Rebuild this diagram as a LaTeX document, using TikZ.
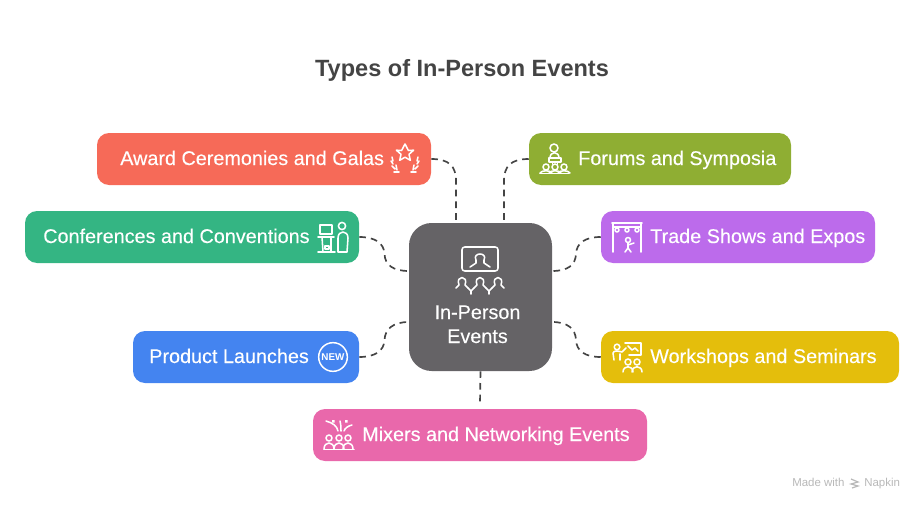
\documentclass[tikz,border=0pt]{standalone}
\usepackage{xcolor}
\usepackage{fontspec}
\setmainfont{Liberation Sans}
\usetikzlibrary{calc}
\definecolor{awardc}{HTML}{F66A58}
\definecolor{forumc}{HTML}{8FAE33}
\definecolor{confc}{HTML}{34B583}
\definecolor{tradec}{HTML}{BC6BEB}
\definecolor{launchc}{HTML}{4484F0}
\definecolor{workc}{HTML}{E4BE0C}
\definecolor{mixc}{HTML}{E968AB}
\definecolor{hubc}{HTML}{656366}
\definecolor{inkc}{HTML}{444444}
\tikzset{
  evbox/.style={rectangle,rounded corners=9pt,minimum height=39pt,inner sep=0pt},
  evtext/.style={anchor=base west,text=white,inner sep=0pt,font=\fontsize{14.85}{17}\selectfont\addfontfeature{FakeBold=0.2}},
  link/.style={line width=1.25pt,inkc,dash pattern=on 5pt off 3.8pt},
  ico/.style={white,line width=1.15pt,line cap=round,line join=round}
}
\begin{document}
\begin{tikzpicture}[x=0.75pt,y=-0.75pt]
\useasboundingbox (0,0) rectangle (924,510);
    \node[anchor=base,text=inkc,inner sep=0pt,font=\fontsize{17.65}{22}\selectfont\bfseries] (title) at (462,77) {Types of In-Person Events};
    % boxes
    \node[evbox,fill=hubc,minimum width=107.25pt,minimum height=111pt,rounded corners=17pt] (hub) at (480.5,297) {};
    \node[evbox,fill=awardc,minimum width=250.5pt] (award) at (264,159) {};
    \node[evbox,fill=forumc,minimum width=196.5pt] (forum) at (660,159) {};
    \node[evbox,fill=confc,minimum width=250.5pt] (conf) at (192,237) {};
    \node[evbox,fill=tradec,minimum width=205.5pt] (trade) at (738,237) {};
    \node[evbox,fill=launchc,minimum width=169.5pt] (launch) at (246,357) {};
    \node[evbox,fill=workc,minimum width=223.5pt] (work) at (750,357) {};
    \node[evbox,fill=mixc,minimum width=250.5pt] (mix) at (480,435) {};
    % labels
    \node[evtext] (awardtxt) at (120,165) {Award Ceremonies and Galas};
    \node[evtext] (forumtxt) at (578,165) {Forums and Symposia};
    \node[evtext] (conftxt) at (43,243) {Conferences and Conventions};
    \node[evtext] (tradetxt) at (650,243) {Trade Shows and Expos};
    \node[evtext] (launchtxt) at (149,363) {Product Launches};
    \node[evtext] (worktxt) at (650,363) {Workshops and Seminars};
    \node[evtext] (mixtxt) at (362,441) {Mixers and Networking Events};
    \node[evtext,anchor=base] (hubtxt) at (477.5,319) {In-Person};
    \node[evtext,anchor=base] (hubtxtb) at (477.5,343) {Events};
    % connectors
    \coordinate (hubna) at (456,223);
    \coordinate (hubnb) at (504,223);
    \coordinate (hubwa) at (409,271);
    \coordinate (hubwb) at (409,322);
    \coordinate (hubea) at (552,271);
    \coordinate (hubeb) at (552,322);
    \coordinate (mixtop) at (480,403);
    \draw[link] (award.east) .. controls (449,159) and (456,166) .. (456,181) -- (hubna);
    \draw[link] (forum.west) .. controls (511,159) and (504,166) .. (504,181) -- (hubnb);
    \draw[link] (conf.east) .. controls (375,237) and (384,243) .. (384.5,254) .. controls (385,265) and (393,271) .. (hubwa);
    \draw[link] (launch.east) .. controls (375,357) and (384,351) .. (384.5,340) .. controls (385,329) and (393,322) .. (hubwb);
    \draw[link] (trade.west) .. controls (585,237) and (576.5,243) .. (576,254) .. controls (575.5,265) and (568,271) .. (hubea);
    \draw[link] (work.west) .. controls (585,357) and (576.5,351) .. (576,340) .. controls (575.5,329) and (568,322) .. (hubeb);
    \draw[link] (hub.south) -- (mixtop);
    % hub icon
    \draw[ico] (462,247) [rounded corners=2pt] rectangle (498,271);
    \draw[ico] (470,267) -- (476,263) -- (476,260) .. controls (472,252) and (488,252) .. (484,260) -- (484,263) -- (490,267);
    \foreach \i in {462,480,498} {
      \draw[ico] ({\i-6},288) -- ({\i-3},285) .. controls ({\i-7},275) and ({\i+7},275) .. ({\i+3},285) -- ({\i+6},288);
    }
    \draw[ico] (468,288) -- (471,291) -- (474,288) (486,288) -- (489,291) -- (492,288) (471,291) -- (471,294) (489,291) -- (489,294);
    % award icon
    \draw[ico] (405,144) -- (408.4,150.5) -- (413.6,150.2) -- (409,154.3) -- (410.3,160.3) -- (405,157.2) -- (399.7,160.3) -- (401,154.3) -- (396.4,150.2) -- (401.6,150.5) -- cycle;
    \foreach \s in {1,-1} {
      \draw[ico] ({405-\s*13},157) -- ({405-\s*12},161) ({405-\s*14},161) -- ({405-\s*12},164) ({405-\s*13},166) -- ({405-\s*10},169) ({405-\s*11},172) -- ({405-\s*6},172) ({405-\s*9},165) -- ({405-\s*8},170);
    }
    % conference icon
    \draw[ico] (320,225) rectangle (332,234);
    \draw[ico] (318,237) -- (334,237) (322,237) -- (323,252) (331,237) -- (331,252) (318,252) -- (335,252);
    \draw[ico] (325,246) rectangle (329,249);
    \draw[ico] (342,226) circle (3.6);
    \draw[ico] (338,252) -- (338,238) .. controls (338,230) and (348,230) .. (348,238) -- (347,252) -- cycle;
    % forum icon
    \draw[ico] (554,148) circle (4);
    \draw[ico] (550,158) .. controls (550,151) and (559,151) .. (559,158);
    \draw[ico] (549,158) rectangle (561,162);
    \draw[ico] (552.5,162) -- (552.5,164) (557.5,162) -- (557.5,164);
    \foreach \i in {546,555,564} {
      \draw[ico] (\i,167) circle (3);
      \draw[ico] ({\i-6},173) .. controls ({\i-4},170) and ({\i+4},170) .. ({\i+6},173);
    }
    \draw[ico] (540,173.5) -- (569,173.5);
    % trade icon
    \draw[ico] (612,223) -- (642,223) (614,227) -- (640,227) (613,223) -- (613,252) (641,223) -- (641,252);
    \foreach \i in {617,627,637} {
      \draw[ico] (\i,230) circle (2);
    }
    \draw[ico] (628,240) circle (2.5);
    \draw[ico] (628,243) -- (628,248) -- (625,252) (628,248) -- (631,252) (628,245) -- (634,243);
    % workshop icon
    \draw[ico] (625,343) -- (641,343) -- (641,355) -- (629,355);
    \draw[ico] (628,346) -- (632,350) -- (635,348) -- (638,351);
    \draw[ico] (617,347) circle (2.8);
    \draw[ico] (614,360) -- (613,353) .. controls (614,350) and (618,351) .. (622,352) -- (626,348) (620,360) -- (620,354);
    \foreach \i in {628,637} {
      \draw[ico] (\i,362) circle (3);
      \draw[ico] ({\i-5},372) .. controls ({\i-5},365) and ({\i+5},365) .. ({\i+5},372);
    }
    % launch icon
    \node[circle,draw=white,line width=1.1pt,minimum size=21.5pt,inner sep=0pt,text=white,font=\fontsize{7.4}{8}\selectfont\bfseries] (newmark) at (333,357) {NEW};
    % mixer icon
    \foreach \i in {329,339,348} {
      \draw[ico] (\i,438) circle (3);
      \draw[ico] ({\i-5},449) .. controls ({\i-5},441) and ({\i+5},441) .. ({\i+5},449);
    }
    \draw[ico] (324,449.5) -- (354,449.5);
    \draw[ico] (338,431) .. controls (337,426) and (333,423) .. (326,421);
    \draw[ico] (341,431) .. controls (341,428) and (341,425) .. (340,421);
    \draw[ico] (344,431) .. controls (345,428) and (348,426) .. (352,425);
    \fill[white] (332,420) rectangle (334.5,422.5) (345,420) rectangle (347.5,422.5);
    % napkin mark
    \node[anchor=base west,inner sep=0pt,text=black!28,font=\fontsize{8.6}{10}\selectfont] (madewith) at (792,486) {Made with};
    \draw[black!28,line width=0.9pt] (851,479) -- (858,482) -- (851,484) -- (858,486) -- (852,488);
    \node[anchor=base west,inner sep=0pt,text=black!28,font=\fontsize{8.6}{10}\selectfont] (napkin) at (864,486) {Napkin};
\end{tikzpicture}
\end{document}
